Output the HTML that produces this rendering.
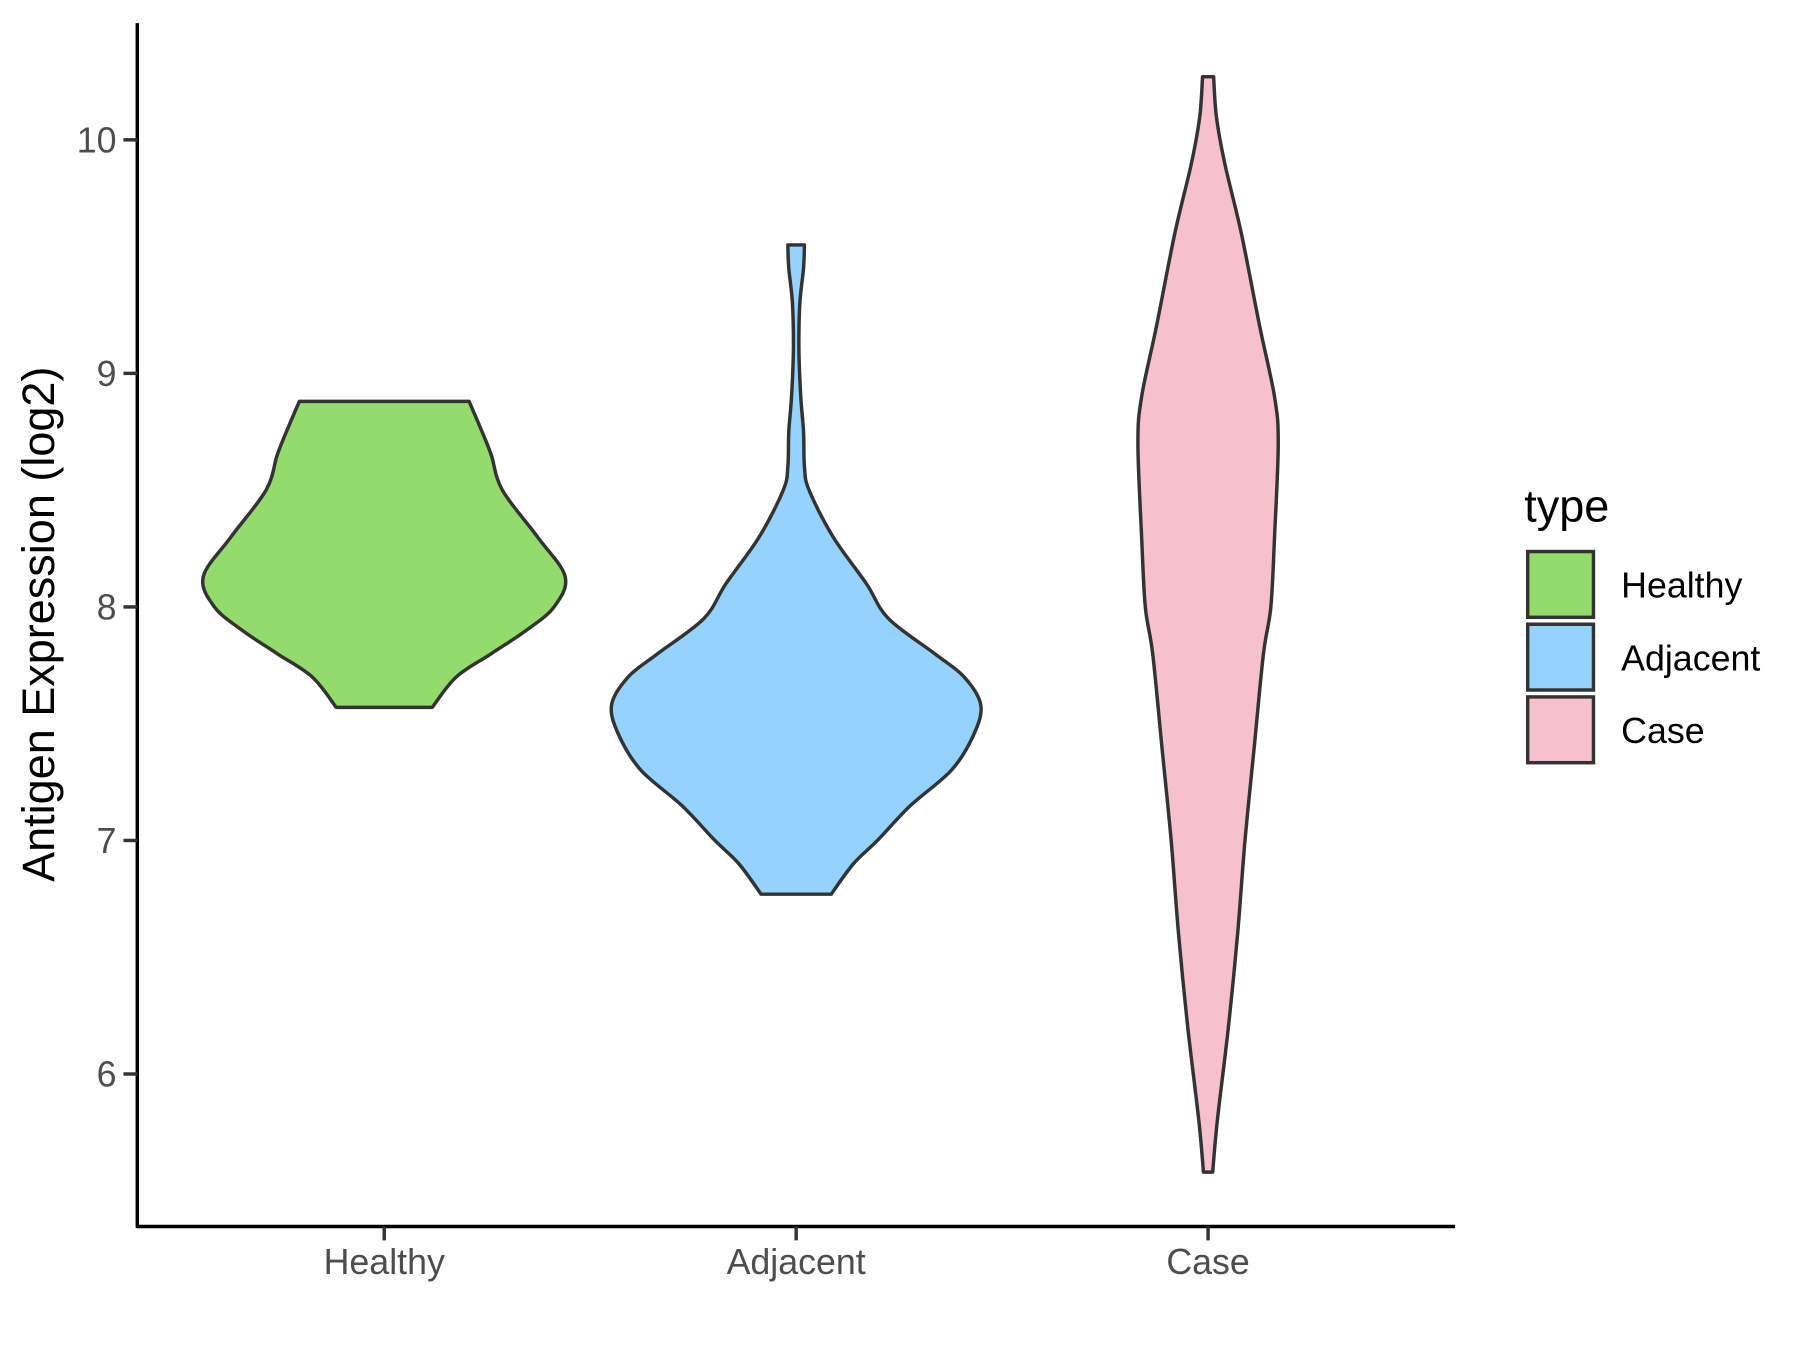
<!DOCTYPE html>
<html><head><meta charset="utf-8"><style>
html,body{margin:0;padding:0;background:#fff}
svg{display:block;font-family:"Liberation Sans",Arial,sans-serif}
</style></head><body>
<svg id="chart" width="1800" height="1350" viewBox="0 0 1560 1170" xmlns="http://www.w3.org/2000/svg">
<rect width="1560" height="1170" fill="#fff"/>
<g id="violins"></g>
<line x1="119" y1="20" x2="119" y2="1064" stroke="#000" stroke-width="3"/>
<line x1="118" y1="1063" x2="1261" y2="1063" stroke="#000" stroke-width="3"/>
<g id="yticks"></g>
<g id="xticks"></g>
<text transform="translate(47,541) rotate(-90)" text-anchor="middle" font-size="39" fill="#000">Antigen Expression (log2)</text>
<g>
<text x="1321" y="452" font-size="39" fill="#000">type</text>
<rect x="1324" y="478" width="57" height="57" fill="#93db6a" stroke="#333" stroke-width="3"/>
<rect x="1324" y="541" width="57" height="57" fill="#93d3fd" stroke="#333" stroke-width="3"/>
<rect x="1324" y="604" width="57" height="57" fill="#f6c1cc" stroke="#333" stroke-width="3"/>
<text x="1405" y="518" font-size="31" fill="#000">Healthy</text>
<text x="1405" y="581" font-size="31" fill="#000">Adjacent</text>
<text x="1405" y="644" font-size="31" fill="#000">Case</text>
</g>
</svg>
<script>
const categories = ["Healthy","Adjacent","Case"];
const colors = ["#93db6a","#93d3fd","#f6c1cc"];
const yTicks = [6,7,8,9,10];
const healthyY = [7.57,7.7,7.8,7.9,8.0,8.13,8.3,8.5,8.65,8.75,8.88];
const healthyD = [0.26,0.39,0.58,0.77,0.92,0.98,0.83,0.64,0.58,0.53,0.46];
const adjacentY = [6.77,6.9,7.0,7.15,7.3,7.45,7.58,7.7,7.8,7.95,8.1,8.3,8.5,8.6,8.75,8.9,9.1,9.3,9.45,9.55];
const adjacentD = [0.19,0.31,0.44,0.62,0.84,0.96,1.0,0.91,0.75,0.5,0.38,0.2,0.07,0.045,0.04,0.025,0.015,0.02,0.04,0.045];
const caseY = [5.58,5.8,6.2,6.6,7.0,7.4,7.8,8.0,8.3,8.7,8.9,9.2,9.6,9.9,10.1,10.27];
const caseD = [0.025,0.05,0.11,0.16,0.2,0.25,0.3,0.34,0.36,0.38,0.36,0.28,0.18,0.09,0.045,0.03];
const profilesY = [healthyY, adjacentY, caseY];
const profilesD = [healthyD, adjacentD, caseD];

const NS = "http://www.w3.org/2000/svg";
function yScale(v){ return 526 - (v-8)*202.4; }
function xScale(i){ return 333 + i*357; }
function wScale(d){ return d*160; }

function smooth(pts){
  let s = "M"+pts[0][0]+","+pts[0][1];
  for(let i=0;i<pts.length-1;i++){
    const p0=pts[Math.max(i-1,0)],p1=pts[i],p2=pts[i+1],p3=pts[Math.min(i+2,pts.length-1)];
    const c1=[p1[0]+(p2[0]-p0[0])/6,p1[1]+(p2[1]-p0[1])/6];
    const c2=[p2[0]-(p3[0]-p1[0])/6,p2[1]-(p3[1]-p1[1])/6];
    s+=" C"+c1[0]+","+c1[1]+" "+c2[0]+","+c2[1]+" "+p2[0]+","+p2[1];
  }
  return s;
}
const vg = document.getElementById("violins");
categories.forEach((c,i)=>{
  const cx = xScale(i);
  const Y = profilesY[i], D = profilesD[i];
  const right = Y.map((y,k)=>[cx+wScale(D[k]), yScale(y)]);
  const left = Y.map((y,k)=>[cx-wScale(D[k]), yScale(y)]).reverse();
  let d = smooth(right);
  d += " L"+left[0][0]+","+left[0][1];
  d += " " + smooth(left).replace(/^M[^C]*/,"");
  d += " Z";
  const p = document.createElementNS(NS,"path");
  p.setAttribute("d", d);
  p.setAttribute("fill", colors[i]);
  p.setAttribute("stroke", "#333");
  p.setAttribute("stroke-width", "3");
  p.setAttribute("stroke-linejoin", "round");
  
  
  vg.appendChild(p);
});
const yt = document.getElementById("yticks");
yTicks.forEach(v=>{
  const y = yScale(v);
  const l = document.createElementNS(NS,"line");
  l.setAttribute("x1",107); l.setAttribute("x2",119);
  l.setAttribute("y1",y); l.setAttribute("y2",y);
  l.setAttribute("stroke","#333"); l.setAttribute("stroke-width","3");
  
  
  yt.appendChild(l);
  const t = document.createElementNS(NS,"text");
  t.setAttribute("x",101); t.setAttribute("y",y+11);
  t.setAttribute("text-anchor","end"); t.setAttribute("font-size","31"); t.setAttribute("fill","#4d4d4d");
  t.textContent = v;
  
  
  yt.appendChild(t);
});
const xt = document.getElementById("xticks");
categories.forEach((c,i)=>{
  const x = xScale(i);
  const l = document.createElementNS(NS,"line");
  l.setAttribute("x1",x); l.setAttribute("x2",x);
  l.setAttribute("y1",1063); l.setAttribute("y2",1075);
  l.setAttribute("stroke","#333"); l.setAttribute("stroke-width","3");
  
  
  xt.appendChild(l);
  const t = document.createElementNS(NS,"text");
  t.setAttribute("x",x); t.setAttribute("y",1104);
  t.setAttribute("text-anchor","middle"); t.setAttribute("font-size","31"); t.setAttribute("fill","#4d4d4d");
  t.textContent = c;
  
  
  xt.appendChild(t);
});
</script>
</body></html>
